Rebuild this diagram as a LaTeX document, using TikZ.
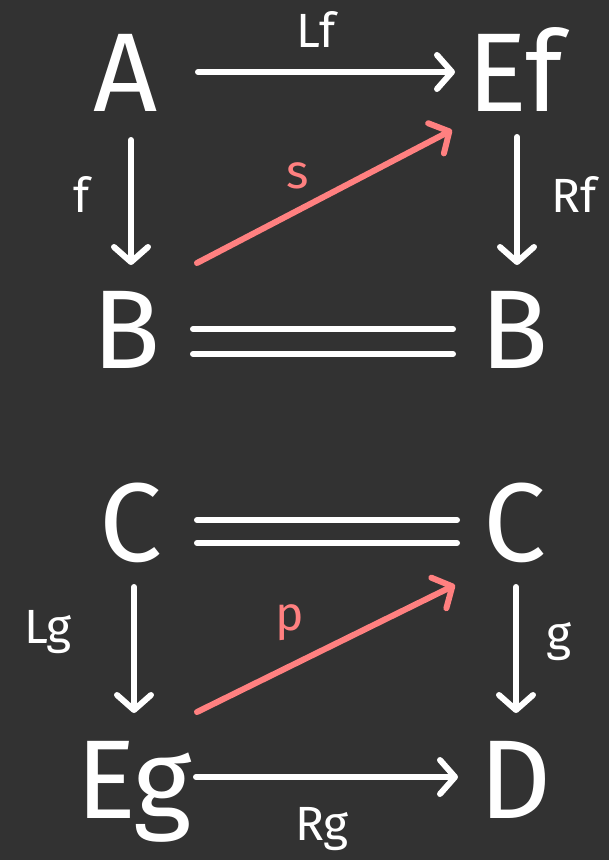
\documentclass[tikz,border=0pt]{standalone}
\usepackage{fontspec}
\setmainfont{Fira Sans}
\usetikzlibrary{arrows.meta,calc}
\definecolor{board}{RGB}{50,50,50}
\definecolor{chalk}{RGB}{255,255,255}
\definecolor{lift}{RGB}{255,128,128}
\tikzset{
  obj/.style={text=chalk, inner sep=0pt, text height=78pt, text depth=0pt,
    font=\fontsize{112}{112}\selectfont},
  lbl/.style={anchor=base, inner sep=0pt, text=chalk,
    font=\fontsize{48}{48}\selectfont},
  rlbl/.style={lbl, text=lift},
  wire/.style={draw=chalk, line width=6pt, line cap=round, line join=round},
  arr/.style={wire, -{Straight Barb[length=15pt,width=34pt,line cap=round,line join=round]}},
  liftarr/.style={arr, draw=lift}
}
\begin{document}
\begin{tikzpicture}[x=1pt,y=-1pt]
  \fill[board] (0,0) rectangle (609,860);
  \useasboundingbox (0,0) rectangle (609,860);

  % upper square
  \node[obj] (A)  at (126,72)  {A};
  \node[obj] (Ef) at (515,72)  {Ef};
  \node[obj] (B1) at (127,329) {B};
  \node[obj] (B2) at (515,329) {B};

  \draw[arr, shorten <=72pt, shorten >=60pt] (A.center) -- (Ef.center);
  \draw[arr, shorten <=68pt, shorten >=64pt] ([xshift=5pt]A.center) -- ([xshift=4pt]B1.center);
  \draw[arr, shorten <=65pt, shorten >=64pt] ([xshift=2pt]Ef.center) -- ([xshift=2pt]B2.center);
  \draw[liftarr] ($(B1)+(70,-66)$) -- ($(Ef)+(-63,58)$);
  \draw[wire] ($(B1)+(66,0)$)  -- ($(B2)+(-62,0)$);
  \draw[wire] ($(B1)+(66,25)$) -- ($(B2)+(-62,25)$);

  \node[lbl]  (lLf) at (316,47)  {Lf};
  \node[lbl]  (lf)  at (82,212)  {f};
  \node[lbl]  (lRf) at (574,212) {Rf};
  \node[rlbl] (ls)  at (298,188) {s};

  % lower square
  \node[obj] (C1) at (131,522) {C};
  \node[obj] (C2) at (515,522) {C};
  \node[obj] (Eg) at (134,779) {Eg};
  \node[obj] (D)  at (516,779) {D};

  \draw[wire] ($(C1)+(66,-2)$) -- ($(C2)+(-58,-2)$);
  \draw[wire] ($(C1)+(66,21)$) -- ($(C2)+(-58,21)$);
  \draw[arr, shorten <=65pt, shorten >=66pt] ([xshift=3pt]C1.center) -- (Eg.center);
  \draw[arr, shorten <=65pt, shorten >=66pt] ([xshift=1pt]C2.center) -- (D.center);
  \draw[arr, shorten <=62pt, shorten >=58pt] ([yshift=2pt]Eg.center) -- ([yshift=2pt]D.center);
  \draw[liftarr] ($(Eg)+(63,-67)$) -- ($(C2)+(-60,63)$);

  \node[lbl]  (lLg) at (48,643)  {Lg};
  \node[lbl]  (lg)  at (559,650) {g};
  \node[lbl]  (lRg) at (322,840) {Rg};
  \node[rlbl] (lp)  at (290,630) {p};
\end{tikzpicture}
\end{document}
